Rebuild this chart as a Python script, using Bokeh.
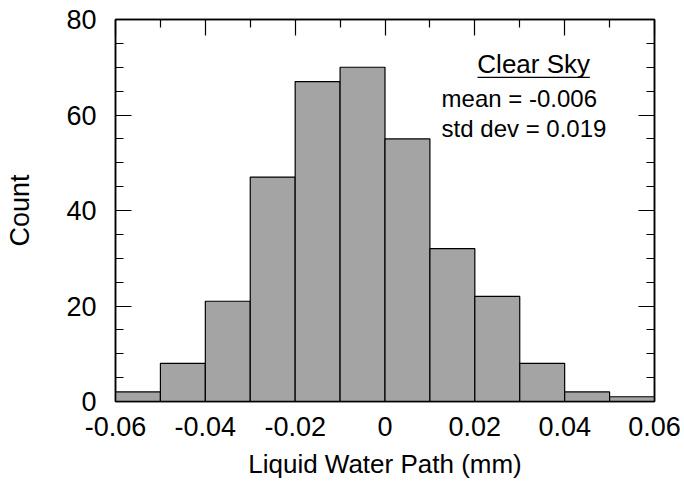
from bokeh.plotting import figure
from bokeh.models import (Range1d, FixedTicker, LinearAxis, Label, CustomJSTickFormatter)
from bokeh.embed import file_html
from bokeh.resources import INLINE

# ---- data ----
bin_left = [-0.06, -0.05, -0.04, -0.03, -0.02, -0.01, 0.00, 0.01, 0.02, 0.03, 0.04, 0.05]
bin_right = [-0.05, -0.04, -0.03, -0.02, -0.01, 0.00, 0.01, 0.02, 0.03, 0.04, 0.05, 0.06]
counts = [2, 8, 21, 47, 67, 70, 55, 32, 22, 8, 2, 1]

x_major = [-0.06, -0.04, -0.02, 0.0, 0.02, 0.04, 0.06]
x_minor = [-0.05, -0.03, -0.01, 0.01, 0.03, 0.05]
y_major = [0, 20, 40, 60, 80]
y_minor = [5, 10, 15, 25, 30, 35, 45, 50, 55, 65, 70, 75]

title_text = "Clear Sky"
stat_lines = ["mean = -0.006", "std dev = 0.019"]

FONT = "Liberation Sans"
TICK_FS = "27px"
LABEL_FS = "26px"

p = figure(width=684, height=485, output_backend="svg", toolbar_location=None,
           x_range=Range1d(-0.06, 0.06), y_range=Range1d(0, 80),
           min_border_left=115, min_border_right=30, min_border_top=19, min_border_bottom=84)
p.background_fill_color = "white"
p.border_fill_color = "white"
p.grid.visible = False
p.outline_line_color = "black"
p.outline_line_width = 1.5

p.quad(left=bin_left, right=bin_right, bottom=0, top=counts,
       fill_color="#a4a4a4", line_color="black", line_width=1.2)

fmt = CustomJSTickFormatter(code="if (Math.abs(tick) < 1e-9) return '0'; return tick.toFixed(2);")
blank = CustomJSTickFormatter(code="return '';")

def style(ax, labels=True):
    ax.axis_line_color = "black"
    ax.axis_line_width = 1.5
    ax.major_tick_line_color = "black"
    ax.minor_tick_line_color = "black"
    ax.major_tick_line_width = 1.2
    ax.minor_tick_line_width = 1.2
    ax.major_tick_in = 16
    ax.major_tick_out = 0
    ax.minor_tick_in = 8
    ax.minor_tick_out = 0
    ax.major_label_text_font = FONT
    ax.major_label_text_font_size = TICK_FS
    ax.major_label_text_color = "black"
    ax.axis_label_text_font = FONT
    ax.axis_label_text_font_size = LABEL_FS
    ax.axis_label_text_font_style = "normal"
    ax.axis_label_text_color = "black"
    if not labels:
        ax.formatter = blank
        ax.major_label_standoff = 0

xb = p.xaxis[0]
xb.ticker = FixedTicker(ticks=x_major, minor_ticks=x_minor)
xb.formatter = fmt
style(xb)
xb.major_tick_in = 0
xb.minor_tick_in = 0
xb.major_label_standoff = 15
xb.axis_label = "Liquid Water Path (mm)"
xb.axis_label_standoff = 10

yl = p.yaxis[0]
yl.ticker = FixedTicker(ticks=y_major, minor_ticks=y_minor)
style(yl)
yl.major_label_standoff = 19
yl.axis_label = "Count"
yl.axis_label_standoff = 28
yl.axis_label_text_font_size = "27px"

xt = LinearAxis(ticker=FixedTicker(ticks=x_major, minor_ticks=x_minor))
style(xt, labels=False)
p.add_layout(xt, "above")

yr = LinearAxis(ticker=FixedTicker(ticks=y_major, minor_ticks=y_minor))
style(yr, labels=False)
p.add_layout(yr, "right")

p.add_layout(Label(x=0.0331, y=70.6, text=title_text, text_font=FONT, text_font_size="26px",
                   text_align="center", text_baseline="alphabetic", text_color="black"))
p.segment(x0=[0.0206], x1=[0.0456], y0=[67.9], y1=[67.9], line_color="black", line_width=1.2)
p.add_layout(Label(x=0.0126, y=63.4, text=stat_lines[0], text_font=FONT, text_font_size="24px",
                   text_align="left", text_baseline="alphabetic", text_color="black"))
p.add_layout(Label(x=0.0126, y=57.2, text=stat_lines[1], text_font=FONT, text_font_size="24px",
                   text_align="left", text_baseline="alphabetic", text_color="black"))

open("out.html", "w").write(file_html(p, INLINE))
